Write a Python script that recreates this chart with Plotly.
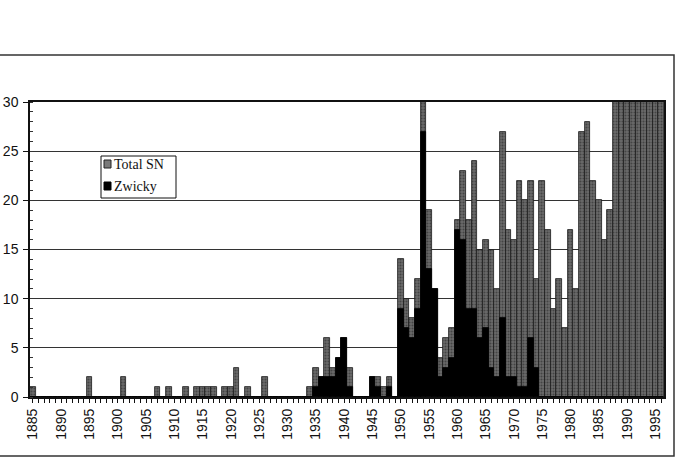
import plotly.graph_objects as go

# ---------------- data ----------------
years = list(range(1885, 1997))

total_sn = [
    1, 0, 0, 0, 0, 0, 0, 0, 0, 0,        # 1885-1894
    2, 0, 0, 0, 0, 0, 2, 0, 0, 0,        # 1895-1904
    0, 0, 1, 0, 1, 0, 0, 1, 0, 1,        # 1905-1914
    1, 1, 1, 0, 1, 1, 3, 0, 1, 0,        # 1915-1924
    0, 2, 0, 0, 0, 0, 0, 0, 0, 1,        # 1925-1934
    3, 2, 6, 3, 4, 6, 3, 0, 0, 0,        # 1935-1944
    2, 2, 1, 2, 0, 14, 10, 8, 12, 30,    # 1945-1954
    19, 11, 4, 6, 7, 18, 23, 18, 24, 15,  # 1955-1964
    16, 15, 11, 27, 17, 16, 22, 20, 22, 12,  # 1965-1974
    22, 17, 9, 12, 7, 17, 11, 27, 28, 22,  # 1975-1984
    20, 16, 19, 30, 30, 30, 30, 30, 30, 30,  # 1985-1994
    30, 30,                               # 1995-1996
]

zwicky = [
    0, 0, 0, 0, 0, 0, 0, 0, 0, 0,        # 1885-1894
    0, 0, 0, 0, 0, 0, 0, 0, 0, 0,        # 1895-1904
    0, 0, 0, 0, 0, 0, 0, 0, 0, 0,        # 1905-1914
    0, 0, 0, 0, 0, 0, 0, 0, 0, 0,        # 1915-1924
    0, 0, 0, 0, 0, 0, 0, 0, 0, 0,        # 1925-1934
    1, 2, 2, 2, 4, 6, 1, 0, 0, 0,        # 1935-1944
    2, 1, 0, 1, 0, 9, 7, 6, 9, 27,       # 1945-1954
    13, 11, 2, 3, 4, 17, 16, 9, 9, 6,    # 1955-1964
    7, 3, 2, 8, 2, 2, 1, 1, 6, 3,        # 1965-1974
    0, 0, 0, 0, 0, 0, 0, 0, 0, 0,        # 1975-1984
    0, 0, 0, 0, 0, 0, 0, 0, 0, 0,        # 1985-1994
    0, 0,                                # 1995-1996
]

tick_labels = [str(y) if y % 5 == 0 else "" for y in years]
series_names = ["Total SN", "Zwicky"]

# ---------------- figure ----------------
W, H = 691, 466
L, R, T, B = 30, 27, 102, 69
PW, PH = W - L - R, H - T - B


def px(x):
    return (x - L) / PW


def py(y):
    return (H - B - y) / PH


fig = go.Figure()
fig.add_trace(go.Bar(
    x=years, y=total_sn, name=series_names[0],
    marker=dict(color="#5e5e5e",
                line=dict(color="#1a1a1a", width=0.8),
                pattern=dict(shape=".", fgcolor="#1e1e1e", bgcolor="#6a6a6a",
                             size=3, solidity=0.4)),
    showlegend=False,
))
fig.add_trace(go.Bar(
    x=years, y=zwicky, name=series_names[1],
    marker=dict(color="#000000", line=dict(color="#000000", width=0.8)),
    showlegend=False,
))

font_sans = "Liberation Sans, Arial, sans-serif"
font_serif = "Liberation Serif, Times New Roman, serif"

fig.update_layout(
    width=W, height=H,
    margin=dict(l=L, r=R, t=T, b=B, autoexpand=False),
    paper_bgcolor="white", plot_bgcolor="white",
    barmode="overlay", bargap=0,
    font=dict(family=font_sans, size=13, color="#111"),
    xaxis=dict(
        range=[1884.5, 1996.5], automargin=False,
        tickmode="array", tickvals=years, ticktext=tick_labels,
        tickangle=-90, ticks="outside", ticklen=4, tickwidth=1.3, tickcolor="#111",
        showline=True, linecolor="#111", linewidth=2, mirror=True,
        showgrid=False, zeroline=False,
        tickfont=dict(family=font_sans, size=14, color="#111"),
    ),
    yaxis=dict(
        range=[0, 30], dtick=5, tick0=0, automargin=False,
        ticks="outside", ticklen=5, tickcolor="#111",
        minor=dict(dtick=1, ticks="inside", ticklen=3, tickcolor="#333", showgrid=False),
        showline=True, linecolor="#111", linewidth=1.5, mirror=True,
        showgrid=True, gridcolor="#333", gridwidth=1,
        zeroline=False,
        tickfont=dict(family=font_sans, size=14, color="#111"),
        ticklabelstandoff=2,
    ),
)

shapes = []
# outer chart frame
shapes.append(dict(type="rect", xref="paper", yref="paper",
                   x0=px(-20), x1=px(674), y0=py(456), y1=py(55),
                   line=dict(color="#333", width=1.5), fillcolor="rgba(0,0,0,0)",
                   layer="above"))
# legend box
shapes.append(dict(type="rect", xref="paper", yref="paper",
                   x0=px(101), x1=px(176), y0=py(198), y1=py(156),
                   line=dict(color="#111", width=1), fillcolor="white", layer="above"))
# legend swatches
shapes.append(dict(type="rect", xref="paper", yref="paper",
                   x0=px(104), x1=px(111), y0=py(168), y1=py(160),
                   line=dict(color="#222", width=1), fillcolor="#7a7a7a", layer="above"))
shapes.append(dict(type="rect", xref="paper", yref="paper",
                   x0=px(104), x1=px(111), y0=py(190), y1=py(182),
                   line=dict(color="#000", width=1), fillcolor="#000", layer="above"))
fig.update_layout(shapes=shapes)

fig.add_annotation(xref="paper", yref="paper", x=px(112), y=py(164),
                   text=series_names[0], showarrow=False, xanchor="left", yanchor="middle",
                   font=dict(family=font_serif, size=14, color="#111"))
fig.add_annotation(xref="paper", yref="paper", x=px(112), y=py(186),
                   text=series_names[1], showarrow=False, xanchor="left", yanchor="middle",
                   font=dict(family=font_serif, size=14, color="#111"))

fig.write_html("out.html")
